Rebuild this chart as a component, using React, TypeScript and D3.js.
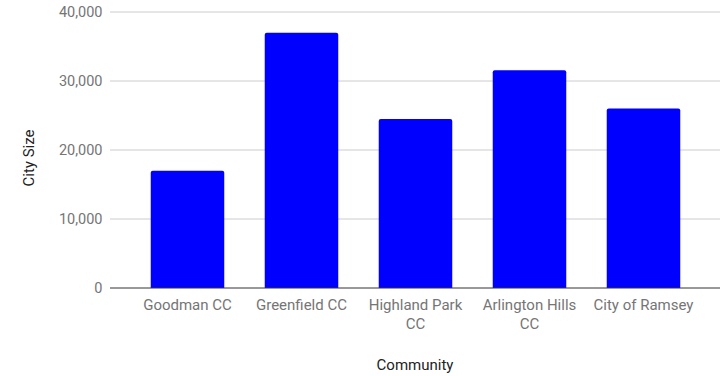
import React from "react";
import * as d3 from "d3";

const communities = [
  ["Goodman CC"],
  ["Greenfield CC"],
  ["Highland Park", "CC"],
  ["Arlington Hills", "CC"],
  ["City of Ramsey"],
];
const citySize = [17000, 37000, 24500, 31550, 26000];
const yTicks = [0, 10000, 20000, 30000, 40000];

const W = 728;
const H = 376;
const plot = { left: 110, right: 720, top: 12, bottom: 288 };
const FONT = "Roboto, 'Noto Sans', sans-serif";

export default function App() {
  const names = communities.map((c) => c.join(" "));
  const x = d3
    .scaleBand<string>()
    .domain(names)
    .range([130.5, 700.5])
    .paddingInner(0.355)
    .paddingOuter(0.1775);
  const y = d3.scaleLinear().domain([0, 40000]).range([plot.bottom, plot.top]);
  const fmt = d3.format(",");

  return (
    <svg
      width={W}
      height={H}
      style={{ position: "absolute", left: 0, top: 0, background: "#fff" }}
      fontFamily={FONT}
    >
      {yTicks.map((t) => (
        <g key={t}>
          {t !== 0 && (
            <line
              x1={plot.left}
              x2={plot.right}
              y1={y(t)}
              y2={y(t)}
              stroke="#cccccc"
              strokeWidth={1}
            />
          )}
          <text
            x={102.5}
            y={y(t)}
            dy="0.35em"
            textAnchor="end"
            fontSize={14.5}
            fill="#757575"
          >
            {fmt(t)}
          </text>
        </g>
      ))}

      {citySize.map((v, i) => {
        const bx = x(names[i])!;
        const by = y(v);
        const bw = x.bandwidth();
        const bh = y(0) - by;
        const r = 2;
        const d = `M${bx},${by + bh}V${by + r}Q${bx},${by} ${bx + r},${by}H${bx + bw - r}Q${bx + bw},${by} ${bx + bw},${by + r}V${by + bh}Z`;
        return <path key={i} d={d} fill="#0000ff" />;
      })}

      <line
        x1={plot.left}
        x2={plot.right}
        y1={y(0)}
        y2={y(0)}
        stroke="#333333"
        strokeWidth={1}
      />

      {communities.map((lines, i) => {
        const cx = x(names[i])! + x.bandwidth() / 2;
        return (
          <text key={i} x={cx} y={310} textAnchor="middle" fontSize={15} fill="#757575">
            {lines.map((l, j) => (
              <tspan key={j} x={cx} dy={j === 0 ? 0 : 19}>
                {l}
              </tspan>
            ))}
          </text>
        );
      })}

      <text x={415} y={370} textAnchor="middle" fontSize={15} fill="#222222">
        Community
      </text>
      <text
        transform={`translate(34,158) rotate(-90)`}
        textAnchor="middle"
        fontSize={15}
        fill="#222222"
      >
        City Size
      </text>
    </svg>
  );
}
